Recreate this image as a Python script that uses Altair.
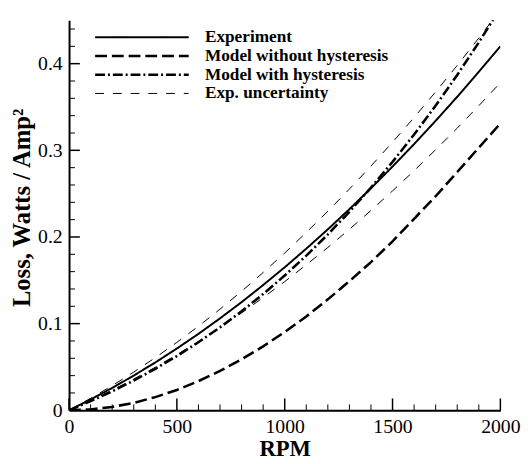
import altair as alt
import pandas as pd

rpm = [0, 100, 200, 300, 400, 500, 600, 700, 800, 900, 1000,
       1100, 1200, 1300, 1400, 1500, 1600, 1700, 1800, 1900, 2000]

experiment = [0, 0.0125, 0.0258, 0.0401, 0.0552, 0.0713, 0.0882, 0.1061, 0.1248, 0.1445, 0.165,
              0.1865, 0.2088, 0.2321, 0.2562, 0.2813, 0.3072, 0.3341, 0.3618, 0.3905, 0.42]
model_without = [0, 0.001, 0.0039, 0.0086, 0.0152, 0.0235, 0.0336, 0.0454, 0.0588, 0.0738, 0.0903,
                 0.1083, 0.128, 0.149, 0.171, 0.195, 0.221, 0.247, 0.275, 0.303, 0.331]
model_with = [0, 0.0105, 0.0219, 0.0343, 0.0479, 0.0626, 0.0785, 0.0957, 0.1142, 0.1341, 0.1555,
              0.1784, 0.2029, 0.2291, 0.257, 0.2867, 0.3182, 0.3516, 0.387, 0.4245, 0.464]
unc_upper = [0, 0.0138, 0.0284, 0.0441, 0.0607, 0.0784, 0.097, 0.1167, 0.1373, 0.159, 0.1815,
             0.2052, 0.2297, 0.2553, 0.2818, 0.3094, 0.3379, 0.3675, 0.398, 0.4296, 0.462]
unc_lower = [0, 0.0113, 0.0232, 0.0361, 0.0497, 0.0642, 0.0794, 0.0955, 0.1123, 0.1301, 0.1485,
             0.1679, 0.1879, 0.2089, 0.2306, 0.2532, 0.2765, 0.3007, 0.3256, 0.3515, 0.378]

series_names = ["Experiment", "Model without hysteresis", "Model with hysteresis", "Exp. uncertainty"]
dashes = [[1, 0], [12, 5], [10, 3, 2, 3], [9, 9]]
widths = [2, 2.6, 2.6, 1]

x_major = [0, 500, 1000, 1500, 2000]
x_minor = [100, 200, 300, 400, 600, 700, 800, 900, 1100, 1200, 1300, 1400, 1600, 1700, 1800, 1900]
y_major = [0.1, 0.2, 0.3, 0.4]
y_minor = [0.02, 0.04, 0.06, 0.08, 0.12, 0.14, 0.16, 0.18, 0.22, 0.24, 0.26, 0.28,
           0.32, 0.34, 0.36, 0.38, 0.42, 0.44]

rows = []
for name, line_id, vals in [
    ("Experiment", "exp", experiment),
    ("Model without hysteresis", "mwo", model_without),
    ("Model with hysteresis", "mw", model_with),
    ("Exp. uncertainty", "up", unc_upper),
    ("Exp. uncertainty", "lo", unc_lower),
]:
    for r, v in zip(rpm, vals):
        rows.append({"rpm": r, "loss": v, "series": name, "line": line_id})
df = pd.DataFrame(rows)

W, H = 438, 396
FONT = "Liberation Serif"
XT = "RPM"
YT = "Loss, Watts / Amp²"

xscale = alt.Scale(domain=[0, 2000], nice=False, zero=False)
yscale = alt.Scale(domain=[0, 0.45], nice=False, zero=False)

xaxis = alt.Axis(values=x_major, ticks=False, grid=False, domainColor="black",
                 domainWidth=2, labelFont=FONT, labelFontSize=20, labelColor="black",
                 labelPadding=7, format="d", titleFont=FONT, titleFontSize=23,
                 titleFontWeight="bold", titleColor="black", titlePadding=1, labelFlush=False)
yaxis = alt.Axis(values=[0] + y_major, ticks=False, grid=False, domainColor="black",
                 domainWidth=2, labelFont=FONT, labelFontSize=20, labelColor="black",
                 labelPadding=7, format=".1~f", titleFont=FONT, titleFontSize=25,
                 titleFontWeight="bold", titleColor="black", titlePadding=3,
                 titleY=190, labelFlush=False)

lines = alt.Chart(df).mark_line(clip=True, color="black").encode(
    x=alt.X("rpm:Q", scale=xscale, title=XT, axis=xaxis),
    y=alt.Y("loss:Q", scale=yscale, title=YT, axis=yaxis),
    strokeDash=alt.StrokeDash("series:N", scale=alt.Scale(domain=series_names, range=dashes),
                              sort=series_names, title=None),
    strokeWidth=alt.StrokeWidth("series:N",
                                scale=alt.Scale(type="ordinal", domain=series_names, range=widths),
                                sort=series_names, title=None),
    detail="line:N",
)

xt_major = alt.Chart(pd.DataFrame({"rpm": x_major})).mark_rule(color="black", strokeWidth=1.5).encode(
    x=alt.X("rpm:Q", scale=xscale, title=XT, axis=xaxis), y=alt.value(H), y2=alt.value(H - 12))
xt_minor = alt.Chart(pd.DataFrame({"rpm": x_minor})).mark_rule(color="black", strokeWidth=1).encode(
    x=alt.X("rpm:Q", scale=xscale, title=XT, axis=xaxis), y=alt.value(H), y2=alt.value(H - 6))
yt_major = alt.Chart(pd.DataFrame({"loss": y_major})).mark_rule(color="black", strokeWidth=1.5).encode(
    y=alt.Y("loss:Q", scale=yscale, title=YT, axis=yaxis), x=alt.value(0), x2=alt.value(11))
yt_minor = alt.Chart(pd.DataFrame({"loss": y_minor})).mark_rule(color="black", strokeWidth=1).encode(
    y=alt.Y("loss:Q", scale=yscale, title=YT, axis=yaxis), x=alt.value(0), x2=alt.value(6))

chart = alt.layer(lines, xt_major, xt_minor, yt_major, yt_minor).properties(
    width=W, height=H,
    autosize=alt.AutoSizeParams(type="none"),
    padding={"left": 62, "top": 9, "right": 24, "bottom": 50},
).configure_view(stroke=None).configure_legend(
    orient="none", legendX=25, legendY=8, symbolType="stroke", symbolSize=9025,
    symbolStrokeColor="black", labelFont=FONT, labelFontSize=17.5, labelFontWeight="bold",
    labelColor="black", labelOffset=15, labelLimit=400, rowPadding=0, padding=0,
    clipHeight=18.5,
)

chart.save("out.html", embed_options={"renderer": "svg", "actions": False})
